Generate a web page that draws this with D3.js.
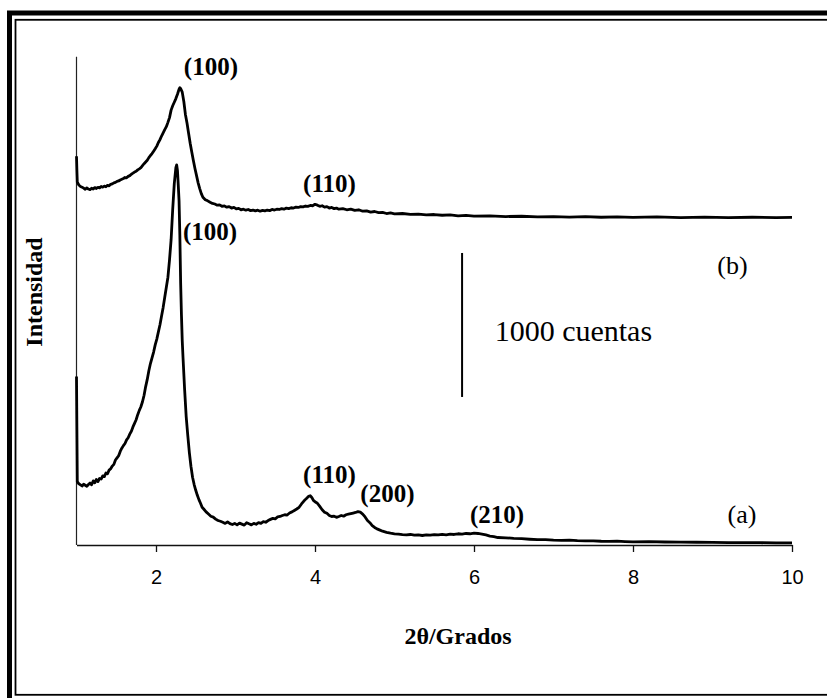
<!DOCTYPE html>
<html>
<head>
<meta charset="utf-8">
<script src="https://cdn.jsdelivr.net/npm/d3@7"></script>
<style>
	body { margin: 0; background: #fff; }
	svg { display: block; }
	.serif { font-family: 'Liberation Serif', 'Times New Roman', Times, serif; }
	.sans { font-family: 'Liberation Sans', Arial, Helvetica, sans-serif; }
</style>
</head>
<body>
<svg></svg>
<script>
// XRD pattern (a): [2theta, counts]
const patternA = [
	[1.000, 1170], [1.005, 800], [1.010, 440], [1.03, 425], [1.05, 418], [1.07, 410], [1.09, 422],
	[1.11, 415], [1.13, 408], [1.15, 420], [1.17, 430], [1.19, 418], [1.21, 445], [1.23, 432],
	[1.25, 455], [1.27, 440], [1.29, 462], [1.31, 458], [1.33, 480], [1.35, 475], [1.37, 500],
	[1.39, 495], [1.41, 520], [1.43, 530], [1.45, 548], [1.47, 560], [1.49, 590], [1.51, 605],
	[1.53, 620], [1.55, 650], [1.57, 672], [1.59, 690], [1.61, 705], [1.63, 730], [1.65, 745],
	[1.67, 770], [1.69, 790], [1.71, 820], [1.73, 845], [1.75, 870], [1.77, 905], [1.79, 935],
	[1.81, 960], [1.83, 995], [1.85, 1040], [1.87, 1100], [1.89, 1150], [1.91, 1210], [1.93, 1260],
	[1.95, 1300], [1.97, 1340], [1.99, 1390], [2.01, 1430], [2.03, 1480], [2.05, 1530], [2.07, 1590],
	[2.09, 1650], [2.11, 1720], [2.13, 1790], [2.15, 1860], [2.17, 1980], [2.19, 2120], [2.21, 2330],
	[2.23, 2510], [2.25, 2620], [2.26, 2640], [2.27, 2600], [2.28, 2500], [2.29, 2390], [2.30, 2150],
	[2.31, 1820], [2.32, 1600], [2.33, 1420], [2.34, 1300], [2.36, 1080], [2.38, 890], [2.40, 760],
	[2.42, 640], [2.44, 545], [2.46, 470], [2.48, 420], [2.50, 380], [2.52, 345], [2.54, 315],
	[2.56, 290], [2.58, 262], [2.60, 250], [2.63, 230], [2.66, 215], [2.69, 200], [2.72, 194],
	[2.75, 180], [2.78, 170], [2.81, 165], [2.84, 158], [2.87, 150], [2.90, 160], [2.93, 148],
	[2.96, 142], [2.99, 150], [3.02, 140], [3.05, 152], [3.08, 145], [3.11, 138], [3.14, 155],
	[3.17, 147], [3.20, 140], [3.23, 150], [3.26, 144], [3.29, 155], [3.32, 150], [3.35, 162],
	[3.38, 158], [3.41, 170], [3.44, 178], [3.47, 185], [3.50, 182], [3.53, 195], [3.56, 198],
	[3.59, 205], [3.62, 210], [3.65, 208], [3.68, 222], [3.71, 230], [3.74, 240], [3.77, 250],
	[3.80, 262], [3.83, 285], [3.86, 305], [3.89, 322], [3.92, 338], [3.94, 342], [3.96, 330],
	[3.98, 310], [4.00, 300], [4.03, 290], [4.06, 268], [4.09, 245], [4.12, 228], [4.15, 220],
	[4.18, 205], [4.21, 198], [4.24, 200], [4.27, 192], [4.30, 198], [4.33, 205], [4.36, 200],
	[4.39, 210], [4.42, 214], [4.45, 218], [4.48, 222], [4.51, 226], [4.54, 232], [4.57, 228],
	[4.60, 215], [4.63, 195], [4.66, 170], [4.69, 155], [4.72, 135], [4.75, 122], [4.78, 112],
	[4.81, 105], [4.85, 96], [4.90, 88], [4.95, 82], [5.00, 78], [5.05, 75], [5.10, 72],
	[5.15, 70], [5.20, 73], [5.25, 68], [5.30, 70], [5.35, 66], [5.40, 70], [5.45, 68],
	[5.50, 72], [5.55, 70], [5.60, 74], [5.65, 71], [5.70, 75], [5.75, 73], [5.80, 78],
	[5.85, 76], [5.90, 80], [5.95, 78], [6.00, 82], [6.05, 80], [6.10, 76], [6.15, 70],
	[6.20, 62], [6.25, 58], [6.30, 52], [6.40, 50], [6.50, 46], [6.60, 44], [6.70, 40],
	[6.80, 37], [6.90, 38], [7.00, 34], [7.10, 32], [7.20, 34], [7.30, 30], [7.40, 28],
	[7.50, 29], [7.60, 26], [7.70, 25], [7.80, 27], [7.90, 24], [8.00, 22], [8.20, 23],
	[8.40, 21], [8.60, 20], [8.80, 19], [9.00, 18], [9.20, 17], [9.40, 17], [9.60, 16],
	[9.80, 15], [10.00, 15]
];

// XRD pattern (b), already shifted up on the same counts scale
const patternB = [
	[1.000, 2700], [1.005, 2600], [1.010, 2520], [1.03, 2500], [1.05, 2490], [1.07, 2485],
	[1.09, 2478], [1.11, 2470], [1.13, 2480], [1.15, 2472], [1.17, 2468], [1.19, 2478],
	[1.21, 2472], [1.23, 2482], [1.25, 2476], [1.27, 2484], [1.29, 2480], [1.31, 2490],
	[1.33, 2485], [1.35, 2492], [1.37, 2488], [1.39, 2498], [1.41, 2494], [1.43, 2505],
	[1.45, 2508], [1.47, 2515], [1.49, 2518], [1.51, 2525], [1.53, 2528], [1.55, 2535],
	[1.57, 2540], [1.59, 2545], [1.61, 2552], [1.63, 2550], [1.65, 2560], [1.67, 2565],
	[1.69, 2575], [1.71, 2582], [1.73, 2590], [1.75, 2595], [1.77, 2605], [1.79, 2612],
	[1.81, 2620], [1.83, 2635], [1.85, 2648], [1.87, 2660], [1.89, 2672], [1.91, 2690],
	[1.93, 2705], [1.95, 2718], [1.97, 2735], [1.99, 2752], [2.01, 2770], [2.03, 2795],
	[2.05, 2815], [2.07, 2840], [2.09, 2862], [2.11, 2885], [2.13, 2905], [2.15, 2935],
	[2.17, 2968], [2.19, 3020], [2.21, 3050], [2.23, 3075], [2.25, 3100], [2.27, 3130],
	[2.29, 3165], [2.30, 3175], [2.31, 3170], [2.33, 3145], [2.35, 3080], [2.37, 2990],
	[2.39, 2930], [2.41, 2860], [2.43, 2790], [2.45, 2730], [2.47, 2670], [2.49, 2615],
	[2.51, 2565], [2.53, 2515], [2.55, 2475], [2.57, 2440], [2.59, 2415], [2.62, 2398],
	[2.65, 2390], [2.68, 2380], [2.71, 2372], [2.74, 2368], [2.77, 2360], [2.80, 2362],
	[2.83, 2352], [2.86, 2355], [2.89, 2346], [2.92, 2350], [2.95, 2340], [2.98, 2345],
	[3.01, 2334], [3.04, 2338], [3.07, 2328], [3.10, 2332], [3.13, 2325], [3.16, 2330],
	[3.19, 2322], [3.22, 2326], [3.25, 2320], [3.28, 2325], [3.31, 2318], [3.34, 2324],
	[3.37, 2320], [3.40, 2326], [3.43, 2322], [3.46, 2330], [3.49, 2326], [3.52, 2332],
	[3.55, 2330], [3.58, 2336], [3.61, 2332], [3.64, 2340], [3.67, 2336], [3.70, 2342],
	[3.73, 2340], [3.76, 2346], [3.79, 2344], [3.82, 2350], [3.85, 2348], [3.88, 2354],
	[3.91, 2352], [3.94, 2358], [3.97, 2356], [4.00, 2366], [4.03, 2360], [4.06, 2352],
	[4.09, 2356], [4.12, 2346], [4.15, 2350], [4.18, 2340], [4.21, 2344], [4.24, 2336],
	[4.27, 2340], [4.30, 2332], [4.35, 2336], [4.40, 2328], [4.45, 2332], [4.50, 2324],
	[4.55, 2328], [4.60, 2318], [4.65, 2320], [4.70, 2312], [4.75, 2316], [4.80, 2308],
	[4.85, 2310], [4.90, 2302], [4.95, 2306], [5.00, 2300], [5.10, 2302], [5.20, 2296],
	[5.30, 2298], [5.40, 2292], [5.50, 2295], [5.60, 2290], [5.70, 2292], [5.80, 2286],
	[5.90, 2289], [6.00, 2284], [6.20, 2286], [6.40, 2281], [6.60, 2283], [6.80, 2279],
	[7.00, 2281], [7.20, 2277], [7.40, 2280], [7.60, 2276], [7.80, 2279], [8.00, 2275],
	[8.30, 2278], [8.60, 2274], [8.90, 2277], [9.20, 2274], [9.50, 2276], [9.80, 2273],
	[10.00, 2275]
];

const xTicks = [2, 4, 6, 8, 10];

// peak indices and curve names, anchored in data units (2theta, counts)
const peakLabels = [
	{"text": "(100)", "x": 2.35, "c": 3264},
	{"text": "(110)", "x": 3.85, "c": 2451},
	{"text": "(100)", "x": 2.34, "c": 2118},
	{"text": "(110)", "x": 3.85, "c": 431},
	{"text": "(200)", "x": 4.57, "c": 299},
	{"text": "(210)", "x": 5.95, "c": 153}
];
const curveNames = [
	{"text": "(b)", "x": 9.06, "c": 1880},
	{"text": "(a)", "x": 9.19, "c": 153}
];
const scaleBar = {"x": 5.85, "from": 1028, "to": 2028, "label": "1000 cuentas"};

const W = 827, H = 698;

let svg = d3.select('svg')
	.attr('width', W)
	.attr('height', H);

const x = d3.scaleLinear()
	.domain([1, 10])
	.range([76.5, 76.5 + 9 * 79.5]);

const y = d3.scaleLinear()
	.domain([0, 3390])
	.range([545, 545 - 3390 * 0.144]);

// double frame, cut off at right and bottom like the original
svg.append('rect')
	.attr('x', 9.5).attr('y', 13)
	.attr('width', 840).attr('height', 720)
	.attr('fill', 'none')
	.attr('stroke', '#000')
	.attr('stroke-width', 5);
svg.append('rect')
	.attr('x', 15.5).attr('y', 19.8)
	.attr('width', 830).attr('height', 675)
	.attr('fill', 'none')
	.attr('stroke', '#000')
	.attr('stroke-width', 1.8);

// y axis: plain line, no ticks
svg.append('line')
	.attr('x1', x(1)).attr('x2', x(1))
	.attr('y1', y(3390)).attr('y2', y(0))
	.attr('stroke', '#222')
	.attr('stroke-width', 1.2);

// x axis
let xAxis = svg.append('g')
	.attr('transform', 'translate(0,' + y(0) + ')')
	.call(d3.axisBottom(x).tickValues(xTicks).tickSize(7).tickPadding(18).tickSizeOuter(0));
xAxis.attr('font-family', null).attr('font-size', null);
xAxis.select('.domain').attr('stroke', '#111').attr('stroke-width', 1.4);
xAxis.selectAll('.tick line').attr('stroke', '#111').attr('stroke-width', 1.3);
xAxis.selectAll('.tick text')
	.classed('sans', true)
	.style('font-size', '20px')
	.attr('fill', '#000');

let line = d3.line()
	.x(function(d){ return x(d[0]); })
	.y(function(d){ return y(d[1]); });

[patternA, patternB].forEach(function(p){
	svg.append('path')
		.datum(p)
		.attr('d', line)
		.attr('fill', 'none')
		.attr('stroke', '#000')
		.attr('stroke-width', 2.8)
		.attr('stroke-linejoin', 'round');
});

svg.selectAll('text.peak')
	.data(peakLabels)
	.enter()
	.append('text')
	.attr('class', 'peak serif')
	.attr('x', function(d){ return x(d.x); })
	.attr('y', function(d){ return y(d.c); })
	.style('font-weight', 'bold')
	.style('font-size', '25px')
	.text(function(d){ return d.text; });

svg.selectAll('text.curve')
	.data(curveNames)
	.enter()
	.append('text')
	.attr('class', 'curve serif')
	.attr('x', function(d){ return x(d.x); })
	.attr('y', function(d){ return y(d.c); })
	.style('font-size', '26px')
	.text(function(d){ return d.text; });

// 1000 counts scale bar
svg.append('line')
	.attr('x1', x(scaleBar.x)).attr('x2', x(scaleBar.x))
	.attr('y1', y(scaleBar.from)).attr('y2', y(scaleBar.to))
	.attr('stroke', '#000')
	.attr('stroke-width', 2);
svg.append('text')
	.attr('class', 'serif')
	.attr('x', x(6.26))
	.attr('y', y(1417))
	.style('font-size', '30px')
	.text(scaleBar.label);

// axis titles
svg.append('text')
	.attr('class', 'serif')
	.attr('transform', 'translate(42,292) rotate(-90)')
	.attr('text-anchor', 'middle')
	.style('font-weight', 'bold')
	.style('font-size', '24px')
	.text('Intensidad');
svg.append('text')
	.attr('class', 'serif')
	.attr('x', 458)
	.attr('y', 644)
	.attr('text-anchor', 'middle')
	.style('font-weight', 'bold')
	.style('font-size', '24px')
	.text('2θ/Grados');
</script>
</body>
</html>
